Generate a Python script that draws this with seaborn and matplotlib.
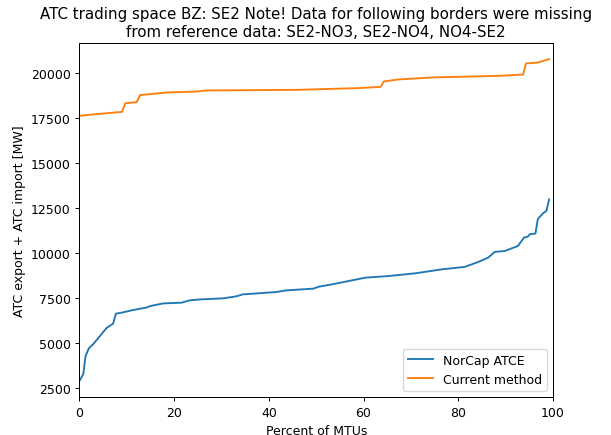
import pandas as pd
import seaborn as sns
import matplotlib.pyplot as plt

# Duration curves (percent of MTUs, MW)
norcap_pct = [0.0, 0.8, 1.3, 2.0, 3.0, 5.3, 5.8, 7.1, 7.7, 9.0, 11.1, 14.2, 14.9,
              17.7, 21.6, 23.3, 25.4, 30.3, 33.1, 34.5, 41.5, 43.6, 49.4, 50.6,
              53.4, 60.4, 65.3, 70.9, 76.5, 81.4, 84.2, 86.3, 87.7, 89.8, 92.6,
              93.9, 94.7, 95.1, 96.3, 96.8, 97.9, 98.6, 99.2]
norcap_mw = [2900, 3270, 4290, 4720, 4970, 5710, 5860, 6080, 6640, 6700, 6830,
             6980, 7060, 7210, 7250, 7380, 7430, 7490, 7600, 7710, 7840, 7930,
             8030, 8140, 8270, 8640, 8730, 8880, 9100, 9240, 9510, 9750, 10070,
             10120, 10400, 10870, 10920, 11050, 11090, 11890, 12220, 12340, 12990]

current_pct = [0.0, 3.4, 9.0, 9.7, 12.1, 12.8, 18.4, 24.7, 26.8, 46.4, 50.6, 59.0,
               63.6, 64.3, 67.4, 74.4, 88.4, 93.7, 94.3, 96.8, 99.2]
current_mw = [17630, 17720, 17850, 18330, 18390, 18780, 18925, 18980, 19040,
              19075, 19110, 19170, 19240, 19540, 19650, 19760, 19850, 19925,
              20540, 20590, 20780]

df = pd.concat([
    pd.DataFrame({'pct': norcap_pct, 'mw': norcap_mw, 'method': 'NorCap ATCE'}),
    pd.DataFrame({'pct': current_pct, 'mw': current_mw, 'method': 'Current method'}),
])

dpi = 90
fig, ax = plt.subplots(figsize=(611 / dpi, 436 / dpi), dpi=dpi)
fig.subplots_adjust(left=0.130, right=0.905, top=0.899, bottom=0.087)

sns.lineplot(ax=ax, data=df, x='pct', y='mw', hue='method', estimator=None,
             palette=['#1f77b4', '#ff7f0e'], linewidth=1.5)

ax.set_xlim(0, 100)
ax.set_xlabel('Percent of MTUs')
ax.set_ylabel('ATC export + ATC import [MW]')
ax.set_title('ATC trading space BZ: SE2 Note! Data for following borders were missing\n'
             'from reference data: SE2-NO3, SE2-NO4, NO4-SE2')
ax.legend(loc='lower right', title=None)

fig.savefig('out.png', dpi=dpi)
